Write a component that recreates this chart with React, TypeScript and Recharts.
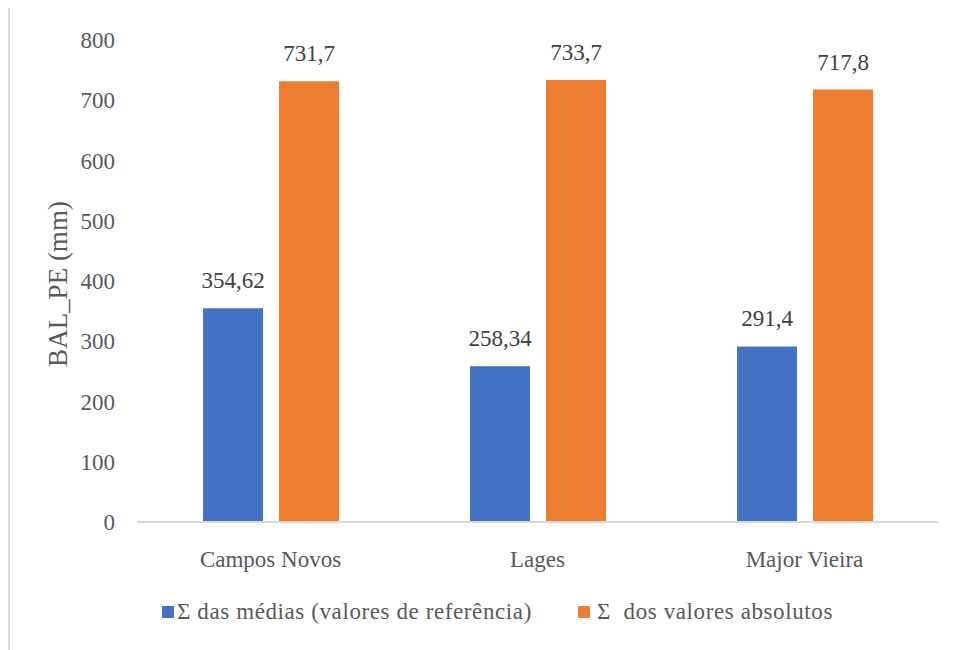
import React from 'react';
import { BarChart, Bar, XAxis, YAxis, Legend, LabelList } from 'recharts';

const cidades = ['Campos Novos', 'Lages', 'Major Vieira'];
const somaMedias = [354.62, 258.34, 291.4];
const somaAbsolutos = [731.7, 733.7, 717.8];
const yTicks = [0, 100, 200, 300, 400, 500, 600, 700, 800];

const nomeMedias = 'Σ das médias (valores de referência)';
const nomeAbsolutos = 'Σ  dos valores absolutos';
const ordemLegenda = [nomeMedias, nomeAbsolutos];

const FONT = 'Liberation Serif, Times New Roman, serif';

const data = cidades.map((c, i) => ({
  cidade: c,
  medias: somaMedias[i],
  absolutos: somaAbsolutos[i]
}));

const fmt = (v: any) => String(v).replace('.', ',');

const LegendaCustom = ({ payload }: any) => {
  const itens = ordemLegenda
    .map((n) => (payload || []).find((p: any) => p.value === n))
    .filter(Boolean);
  return (
    <div style={{ display: 'flex', alignItems: 'center', paddingLeft: 105, height: 40, fontFamily: FONT, fontSize: 23, color: '#595959' }}>
      {itens.map((p: any, i: number) => (
        <div key={i} style={{ display: 'flex', alignItems: 'center', marginRight: i === 0 ? 46 : 0 }}>
          <span style={{ width: 12, height: 12, background: p.color, display: 'inline-block', marginRight: i === 0 ? 3 : 7 }} />
          <span style={{ whiteSpace: 'pre', letterSpacing: 0.6 }}>{p.value}</span>
        </div>
      ))}
    </div>
  );
};

const RotuloY = ({ viewBox }: any) => {
  const cx = viewBox.x + 1;
  const cy = viewBox.y + viewBox.height / 2 + 3;
  return (
    <text x={cx} y={cy} transform={`rotate(-90, ${cx}, ${cy})`} textAnchor="middle" dominantBaseline="central"
      fill="#595959" fontSize={27} style={{ fontFamily: FONT }}>
      BAL_PE (mm)
    </text>
  );
};

const tickStyle = { fill: '#595959', fontSize: 23, fontFamily: FONT, style: { fontFamily: FONT } };

export default function App() {
  return (
    <div style={{ position: 'relative', width: 958, height: 650, fontFamily: FONT }}>
      <div style={{ position: 'absolute', left: -1, top: -4, width: 1000, height: 700, border: '3px solid #d9d9d9', boxSizing: 'border-box' }} />
      <div style={{ position: 'absolute', left: -8, top: -8 }}>
        <BarChart width={958} height={650} data={data} style={{ fontFamily: FONT }}
          margin={{ top: 40, right: 20, bottom: 18, left: 57 }}
          barGap={16} barSize={60}>
          <XAxis dataKey="cidade" axisLine={{ stroke: '#d9d9d9', strokeWidth: 2 }} tickLine={false}
            tickSize={0} tickMargin={29} height={70} tick={tickStyle} />
          <YAxis domain={[0, 800]} ticks={yTicks} width={80} axisLine={false} tickLine={false}
            tickSize={0} tickMargin={22} interval={0} tick={tickStyle}
            label={<RotuloY />} />
          <Legend verticalAlign="bottom" height={40} content={<LegendaCustom />} />
          <Bar dataKey="medias" name={nomeMedias} fill="#4472C4" isAnimationActive={false}>
            <LabelList dataKey="medias" position="top" offset={20} formatter={fmt}
              fill="#404040" fontSize={23} fontFamily={FONT} style={{ fontFamily: FONT }} />
          </Bar>
          <Bar dataKey="absolutos" name={nomeAbsolutos} fill="#ED7D31" isAnimationActive={false}>
            <LabelList dataKey="absolutos" position="top" offset={20} formatter={fmt}
              fill="#404040" fontSize={23} fontFamily={FONT} style={{ fontFamily: FONT }} />
          </Bar>
        </BarChart>
      </div>
    </div>
  );
}
